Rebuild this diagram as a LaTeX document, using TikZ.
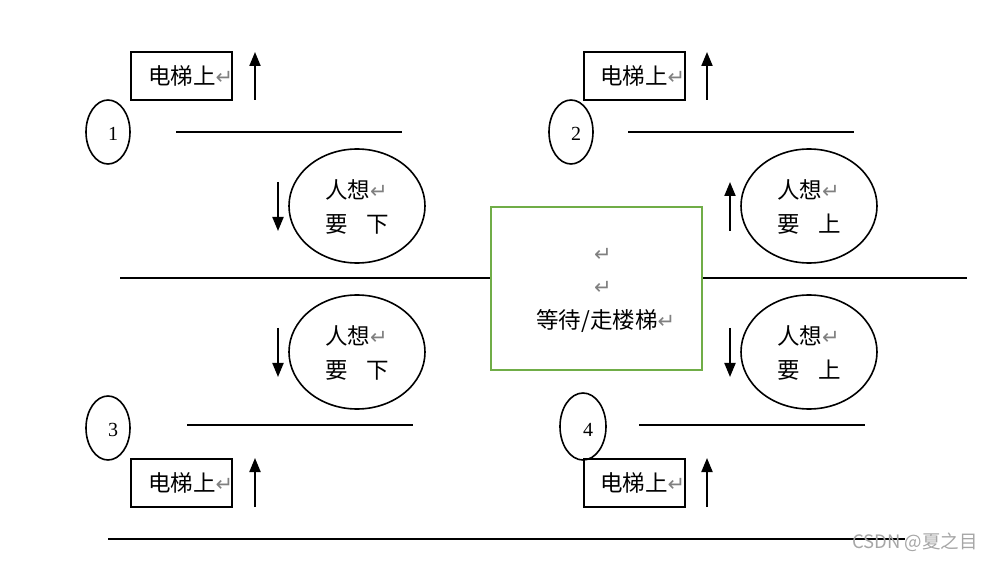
\documentclass[tikz,border=0pt]{standalone}
\usepackage{fontspec}
\setmainfont{Liberation Serif}
\newfontfamily\cjk{Noto Sans CJK SC}
\newfontfamily\sym{DejaVu Sans}
\usetikzlibrary{arrows.meta,shapes.geometric}
\definecolor{boxgreen}{RGB}{112,173,71}
\newcommand{\rmark}{{\sym\color{gray}\fontsize{21}{21}\selectfont ↵}}
\tikzset{
  lbl/.style={font=\cjk\fontsize{22.5}{22.5}\selectfont, inner sep=0pt},
  upbox/.style={draw, line width=2pt, minimum width=101pt, minimum height=48pt, inner sep=0pt},
  numell/.style={draw, ellipse, line width=1.6pt, minimum width=44pt, minimum height=64pt, inner sep=0pt},
  bigell/.style={draw, ellipse, line width=1.6pt, minimum width=136pt, minimum height=114pt, inner sep=0pt},
  numtxt/.style={font=\fontsize{20}{20}\selectfont, inner sep=0pt},
  bar/.style={line width=2pt},
  arr/.style={line width=2pt, -{Triangle[length=14pt,width=11pt]}},
}
\begin{document}
\begin{tikzpicture}[x=1pt,y=-1pt]
\useasboundingbox (0,0) rectangle (991,561);
% top-left
\node[upbox] (b1) at (181.5,76) {};
\node[lbl, anchor=west] (t1) at (148,76) {电梯上\rmark};
\coordinate (a1s) at (255,100); \coordinate (a1e) at (255,52);
\draw[arr] (a1s) -- (a1e);
\node[numell] (c1) at (108,132) {};
\node[numtxt] (n1) at (113,134) {1};
\coordinate (l1s) at (176,132); \coordinate (l1e) at (402,132);
\draw[bar] (l1s) -- (l1e);
\coordinate (d1s) at (278,182); \coordinate (d1e) at (278,231);
\draw[arr] (d1s) -- (d1e);
\node[bigell] (e1) at (357,206) {};
\node[lbl, anchor=west] (e1a) at (325,190) {人想\rmark};
\node[lbl, anchor=west] (e1b) at (325,224) {要\hspace{19pt}下};
% top-right
\node[upbox] (b2) at (634,76) {};
\node[lbl, anchor=west] (t2) at (600,76) {电梯上\rmark};
\coordinate (a2s) at (707,100); \coordinate (a2e) at (707,52);
\draw[arr] (a2s) -- (a2e);
\node[numell] (c2) at (571,132) {};
\node[numtxt] (n2) at (576,134) {2};
\coordinate (l2s) at (628,132); \coordinate (l2e) at (854,132);
\draw[bar] (l2s) -- (l2e);
\coordinate (u2s) at (730,231); \coordinate (u2e) at (730,182);
\draw[arr] (u2s) -- (u2e);
\node[bigell] (e2) at (809,206) {};
\node[lbl, anchor=west] (e2a) at (777,190) {人想\rmark};
\node[lbl, anchor=west] (e2b) at (777,224) {要\hspace{19pt}上};
% middle
\node[draw=boxgreen, line width=2pt, minimum width=211pt, minimum height=163pt, inner sep=0pt] (g) at (596.5,288.5) {};
\node[inner sep=0pt] (g1) at (603,255) {\rmark};
\node[inner sep=0pt] (g2) at (603,288) {\rmark};
\node[lbl, anchor=west] (g3) at (536,321) {等待/走楼梯\rmark};
\coordinate (ml) at (120,278); \coordinate (mr) at (967,278);
\draw[bar] (ml) -- (g.west |- ml);
\draw[bar] (g.east |- mr) -- (mr);
% lower-left
\coordinate (d3s) at (278,328); \coordinate (d3e) at (278,377);
\draw[arr] (d3s) -- (d3e);
\node[bigell] (e3) at (357,352) {};
\node[lbl, anchor=west] (e3a) at (325,336) {人想\rmark};
\node[lbl, anchor=west] (e3b) at (325,370) {要\hspace{19pt}下};
\node[numell] (c3) at (108,428) {};
\node[numtxt] (n3) at (113,430) {3};
\coordinate (l3s) at (187,425); \coordinate (l3e) at (413,425);
\draw[bar] (l3s) -- (l3e);
\node[upbox] (b3) at (181.5,482.5) {};
\node[lbl, anchor=west] (t3) at (148,483) {电梯上\rmark};
\coordinate (a3s) at (255,507); \coordinate (a3e) at (255,458);
\draw[arr] (a3s) -- (a3e);
% lower-right
\coordinate (d4s) at (730,328); \coordinate (d4e) at (730,377);
\draw[arr] (d4s) -- (d4e);
\node[bigell] (e4) at (809,352) {};
\node[lbl, anchor=west] (e4a) at (777,336) {人想\rmark};
\node[lbl, anchor=west] (e4b) at (777,370) {要\hspace{19pt}上};
\node[numell, minimum width=46pt, minimum height=67pt] (c4) at (583,426.5) {};
\node[numtxt] (n4) at (588,430) {4};
\coordinate (l4s) at (639,425); \coordinate (l4e) at (865,425);
\draw[bar] (l4s) -- (l4e);
\node[upbox] (b4) at (634,482.5) {};
\node[lbl, anchor=west] (t4) at (600,483) {电梯上\rmark};
\coordinate (a4s) at (707,507); \coordinate (a4e) at (707,458);
\draw[arr] (a4s) -- (a4e);
% bottom line
\coordinate (bl) at (108,539); \coordinate (br) at (905,539);
\draw[bar] (bl) -- (br);
\node[anchor=east, inner sep=0pt, text=gray!70, font=\cjk\fontsize{18.5}{18.5}\selectfont] (wm) at (978,542) {CSDN @夏之目};
\end{tikzpicture}
\end{document}
